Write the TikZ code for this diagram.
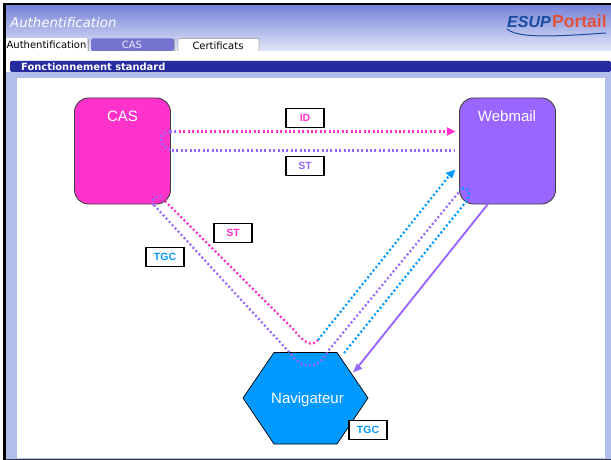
\documentclass[tikz,border=0pt]{standalone}
\usepackage{fontspec}
\setmainfont{Liberation Sans}
\newfontfamily\verdana{DejaVu Sans}
\usetikzlibrary{arrows.meta,shadings,calc}
\definecolor{cpink}{RGB}{255,51,204}
\definecolor{cviolet}{RGB}{153,102,255}
\definecolor{cblue}{RGB}{0,153,255}
\definecolor{cbar}{RGB}{38,44,160}
\definecolor{ctab}{RGB}{116,116,208}
\definecolor{hdtop}{RGB}{118,130,216}
\definecolor{hdbot}{RGB}{226,232,248}
\definecolor{side}{RGB}{178,190,234}
\definecolor{logoblue}{RGB}{25,75,160}
\definecolor{logored}{RGB}{226,80,60}
\definecolor{bottomline}{RGB}{50,55,80}
\tikzset{
  x=1pt,y=-1pt,
  lbl/.style={draw=black,line width=1.5pt,fill=white,minimum width=38pt,minimum height=19pt,inner sep=0pt,font=\fontsize{10.5}{12}\selectfont\bfseries},
  dot/.style={line width=2.2pt,dash pattern=on 2pt off 2.4pt},
  tab/.style={font=\verdana\fontsize{10}{12}\selectfont,inner sep=0pt,anchor=center},
  box/.style={draw=black!75,line width=0.9pt,rounded corners=14pt,minimum width=96pt,minimum height=106pt},
  big/.style={text=white,font=\fontsize{15}{17}\selectfont,inner sep=0pt},
}
\begin{document}
\begin{tikzpicture}
\useasboundingbox (0,0) rectangle (611,460);
\fill[white] (0,0) rectangle (611,460);
% header
\shade[top color=hdtop,bottom color=hdbot] (5,5) rectangle (611,51);
\fill[black] (3,3) rectangle (611,5.5);
\fill[black] (3,3) rectangle (5.5,460);
\node[anchor=west,inner sep=0pt,text=white,font=\verdana\itshape\fontsize{13.3}{15}\selectfont] (title) at (10,23) {Authentification};
% logo
\node[anchor=west,inner sep=0pt,text=logoblue,font=\bfseries\itshape\fontsize{16}{18}\selectfont] (esup) at (507,21.5) {ESUP};
\node[anchor=west,inner sep=0pt,text=logored,font=\bfseries\fontsize{17.5}{19}\selectfont] (portail) at (552,21.5) {Portail};
\draw[line width=1pt,logoblue] (507,29) .. controls (518,38) and (550,37) .. (606,33);
% tabs
\fill[white] (5.5,51) rectangle (611,60);
\fill[ctab,rounded corners=2pt] (91,51) -- (91,38.5) -- (174,38.5) -- (174,51) -- cycle;
\draw[gray!70,line width=.7pt] (174,39) -- (174,51);
\fill[white,rounded corners=2pt] (178,51) -- (178,38.5) -- (259,38.5) -- (259,51) -- cycle;
\draw[gray!60,line width=.7pt,rounded corners=2pt] (178,51) -- (178,38.5) -- (259,38.5) -- (259,51);
\fill[white] (6,38.5) rectangle (87,51);
\draw[gray!70,line width=.7pt] (88,39) -- (88,51);
\node[tab] (tabauth) at (46.5,44.5) {Authentification};
\node[tab,text=white!85!ctab] (tabcas) at (132,45) {CAS};
\node[tab] (tabcert) at (218,45.5) {Certificats};
% bar
\fill[side] (5.5,72) rectangle (611,459);
\fill[white] (17,78) rectangle (605,458);
\fill[cbar,rounded corners=1.5pt] (10,61) rectangle (611,72);
\fill[bottomline] (5.5,458.7) rectangle (611,460);
\node[anchor=west,inner sep=0pt,text=white,font=\verdana\bfseries\fontsize{9.9}{11}\selectfont] (bartitle) at (21,66.5) {Fonctionnement standard};
% nodes
\node[box,fill=cpink] (cas) at (122.5,151) {};
\node[big] (castxt) at (122.5,116) {CAS};
\node[box,fill=cviolet] (web) at (507.5,151) {};
\node[big] (webtxt) at (507,116) {Webmail};
\path[fill=cblue,draw=black,line width=.7pt]
  (243,398) -- (274,352.5) -- (337,352.5) -- (368,398) -- (337,444) -- (274,444) -- cycle;
\node[big] (navtxt) at (307.5,399.5) {Navigateur};
% connectors
\coordinate (b1) at (455,150.5);
\draw[dot,cviolet] (170,131.5) -- (178,131.5);
\draw[dot,cviolet] (170,131.5) .. controls (157,133) and (158,146) .. (172,150.5);
\draw[dot,cviolet] (172,150.5) -- (b1);
\draw[dot,cpink] (179,131.5) -- (448,131.5);
\draw[cpink,fill=cpink] (447,127.5) -- (455,131.5) -- (447,135.5) -- cycle;
% long V: pink
\draw[dot,cpink] (165,201) -- (293,329) .. controls (305,344) and (312,347) .. (318,340);
\draw[dot,cblue] (318,340) -- (449,176);
\draw[cblue,fill=cblue] (455,170) -- (452,178) -- (446,173) -- cycle;
% long V: violet
\draw[dot,cviolet] (154,205) -- (290,353) .. controls (300,368) and (318,372) .. (328,351) -- (459,192);
\draw[dot,cviolet] (153,205) .. controls (150,199) and (156,195) .. (164,197);
% blue parallel
\draw[dot,cblue] (344,353) -- (465,203) .. controls (472,195) and (470,186) .. (459,189);
% solid
\draw[cviolet,line width=1.9pt] (488,204) -- (357,368);
\draw[cviolet,fill=cviolet] (353.5,372) -- (362,368.5) -- (357,364) -- cycle;
% labels
\node[lbl,text=cpink] (lid) at (305,118) {ID};
\node[lbl,text=cviolet] (lst) at (305,166) {ST};
\node[lbl,text=cpink] (lst2) at (233,233) {ST};
\node[lbl,text=cblue] (ltgc) at (165,257) {TGC};
\node[lbl,text=cblue] (ltgc2) at (368,430) {TGC};
\end{tikzpicture}
\end{document}
